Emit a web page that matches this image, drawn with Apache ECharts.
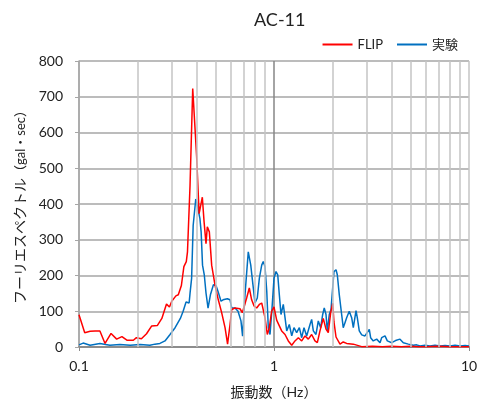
<!DOCTYPE html>
<html>
<head>
<meta charset="utf-8">
<script src="https://cdn.jsdelivr.net/npm/echarts@6/dist/echarts.min.js"></script>
<style>
  html, body { margin: 0; padding: 0; background: #fff; }
  #main { width: 481px; height: 404px; }
</style>
</head>
<body>
<div id="main"></div>
<script>
// 振動数 (Hz) と フーリエスペクトル (gal・sec)
const FLIP_FREQ = [0.100, 0.107, 0.114, 0.121, 0.128, 0.136, 0.146, 0.156, 0.166, 0.176,
  0.190, 0.197, 0.209, 0.222, 0.236, 0.252, 0.266, 0.281, 0.291, 0.299,
  0.314, 0.323, 0.335, 0.345, 0.355, 0.360, 0.371, 0.383, 0.386, 0.401,
  0.413, 0.420, 0.429, 0.438, 0.448, 0.455, 0.466, 0.479, 0.498, 0.518,
  0.539, 0.561, 0.578, 0.595, 0.607, 0.631, 0.669, 0.688, 0.724, 0.747,
  0.768, 0.790, 0.815, 0.841, 0.865, 0.899, 0.924, 0.946, 0.973, 1.000,
  1.032, 1.065, 1.095, 1.139, 1.184, 1.233, 1.281, 1.333, 1.387, 1.442,
  1.500, 1.560, 1.622, 1.668, 1.721, 1.789, 1.848, 1.898, 1.953, 2.000,
  2.030, 2.080, 2.180, 2.265, 2.358, 2.551, 2.817, 3.2, 3.6, 4.0,
  4.5, 5.0, 5.5, 6.0, 7.0, 8.0, 9.0, 10.0];
const FLIP_AMP = [90, 40, 44, 45, 45, 10, 38, 22, 29, 19,
  19, 26, 23, 37, 59, 60, 80, 120, 112, 128,
  143, 146, 172, 225, 239, 266, 451, 723, 719, 534,
  373, 377, 419, 350, 289, 336, 322, 229, 174, 132,
  96, 54, 8, 63, 105, 109, 107, 96, 137, 165,
  132, 115, 109, 119, 123, 82, 35, 54, 100, 112,
  75, 59, 45, 35, 17, 5, 17, 26, 17, 31,
  22, 35, 17, 12, 45, 80, 50, 40, 96, 122,
  70, 28, 8, 14, 10, 8, 1, 2, 1, 2,
  1, 2, 1, 1, 2, 1, 1, 1];

const EXP_FREQ = [0.100, 0.105, 0.114, 0.128, 0.144, 0.162, 0.183, 0.206, 0.231, 0.245,
  0.260, 0.276, 0.293, 0.311, 0.331, 0.342, 0.354, 0.360, 0.367, 0.371,
  0.378, 0.385, 0.397, 0.403, 0.417, 0.423, 0.430, 0.439, 0.448, 0.459,
  0.472, 0.489, 0.504, 0.516, 0.535, 0.548, 0.576, 0.595, 0.607, 0.631,
  0.654, 0.677, 0.690, 0.710, 0.738, 0.760, 0.780, 0.799, 0.821, 0.841,
  0.865, 0.881, 0.899, 0.918, 0.935, 0.954, 0.977, 1.000, 1.024, 1.045,
  1.065, 1.086, 1.116, 1.139, 1.162, 1.198, 1.233, 1.266, 1.307, 1.349,
  1.387, 1.425, 1.471, 1.530, 1.560, 1.591, 1.642, 1.687, 1.735, 1.777,
  1.810, 1.848, 1.876, 1.921, 1.960, 2.000, 2.030, 2.080, 2.112, 2.162,
  2.223, 2.265, 2.312, 2.358, 2.432, 2.502, 2.551, 2.634, 2.674, 2.737,
  2.817, 2.928, 2.987, 3.081, 3.130, 3.228, 3.362, 3.497, 3.566, 3.709,
  3.811, 4.015, 4.200, 4.428, 4.603, 4.885, 5.181, 5.390, 5.606, 5.947,
  6.310, 6.695, 7.103, 7.536, 7.996, 8.483, 9.000, 9.549, 10.0];
const EXP_AMP = [6, 11, 5, 10, 5, 7, 5, 7, 5, 8,
  10, 17, 35, 54, 80, 100, 126, 127, 123, 150,
  192, 340, 414, 400, 359, 322, 229, 202, 151, 109,
  146, 174, 172, 156, 128, 132, 135, 132, 109, 109,
  100, 73, 30, 146, 266, 229, 174, 123, 137, 192,
  229, 239, 225, 156, 54, 35, 109, 192, 211, 202,
  146, 91, 119, 82, 45, 63, 31, 54, 40, 54,
  26, 54, 31, 63, 77, 45, 35, 73, 54, 91,
  109, 91, 45, 91, 105, 109, 211, 216, 202, 146,
  91, 54, 68, 82, 100, 82, 54, 102, 82, 45,
  34, 31, 26, 49, 26, 17, 22, 12, 26, 31,
  17, 12, 18, 22, 12, 8, 5, 6, 3, 5,
  3, 5, 3, 4, 3, 5, 3, 4, 3];

// 対数軸の補助目盛
const MINOR_TICKS = [0.2, 0.3, 0.4, 0.5, 0.6, 0.7, 0.8, 0.9, 2, 3, 4, 5, 6, 7, 8, 9];

const FONT = 'Lato, "Noto Sans CJK JP", sans-serif';
const zip = (xs, ys) => xs.map((x, i) => [x, ys[i]]);

const chart = echarts.init(document.getElementById('main'));
chart.setOption({
  animation: false,
  textStyle: { fontFamily: FONT },
  title: {
    text: 'AC-11',
    left: 249,
    top: 6,
    textStyle: { fontSize: 18, fontWeight: 'normal', color: '#222', fontFamily: FONT }
  },
  legend: {
    data: ['FLIP', '実験'],
    icon: 'rect',
    right: 18,
    top: 33,
    itemWidth: 30,
    itemHeight: 2,
    itemGap: 14,
    textStyle: { fontSize: 13, color: '#222', fontFamily: FONT }
  },
  grid: { left: 79, top: 61, width: 390, height: 288 },
  xAxis: {
    type: 'log',
    logBase: 10,
    min: 0.1,
    max: 10,
    name: '振動数（Hz）',
    nameLocation: 'middle',
    nameGap: 38,
    nameTextStyle: { fontSize: 14, color: '#222', fontFamily: FONT },
    axisLine: { show: true, lineStyle: { color: '#8c8c8c', width: 2 } },
    axisTick: { show: true, length: 4, lineStyle: { color: '#8c8c8c' } },
    axisLabel: { fontSize: 14, color: '#222', margin: 12, fontFamily: FONT,
      formatter: v => String(v) },
    splitLine: { show: true, lineStyle: { color: ['#b0b0b0', '#868686', '#c4c4c4'], width: 1.5 } }
  },
  yAxis: {
    type: 'value',
    min: 0,
    max: 800,
    interval: 100,
    name: 'フーリエスペクトル{s|（gal・sec）}',
    nameLocation: 'middle',
    nameRotate: 90,
    nameGap: 42,
    nameTextStyle: { fontSize: 14, color: '#222', fontFamily: FONT,
      rich: { s: { fontSize: 13, color: '#222', fontFamily: FONT } } },
    axisLine: { show: true, lineStyle: { color: '#a6a6a6', width: 1.5 } },
    axisTick: { show: true, length: 4, lineStyle: { color: '#a6a6a6' } },
    axisLabel: { fontSize: 14, color: '#222', margin: 16, fontFamily: FONT },
    splitLine: { show: true, lineStyle: { color: '#a6a6a6', width: 1.5 } }
  },
  series: [
    {
      name: 'grid',
      type: 'line',
      data: [],
      z: 1,
      silent: true,
      markLine: {
        silent: true,
        symbol: 'none',
        label: { show: false },
        lineStyle: { color: '#c4c4c4', type: 'solid', width: 1.5 },
        data: MINOR_TICKS.map(v => ({ xAxis: v }))
      }
    },
    {
      name: 'FLIP',
      type: 'line',
      data: zip(FLIP_FREQ, FLIP_AMP),
      symbol: 'none',
      z: 4,
      lineStyle: { color: '#ff0000', width: 1.5 },
      itemStyle: { color: '#ff0000' }
    },
    {
      name: '実験',
      type: 'line',
      data: zip(EXP_FREQ, EXP_AMP),
      symbol: 'none',
      z: 3,
      lineStyle: { color: '#0070c0', width: 1.5 },
      itemStyle: { color: '#0070c0' }
    }
  ]
});
</script>
</body>
</html>
